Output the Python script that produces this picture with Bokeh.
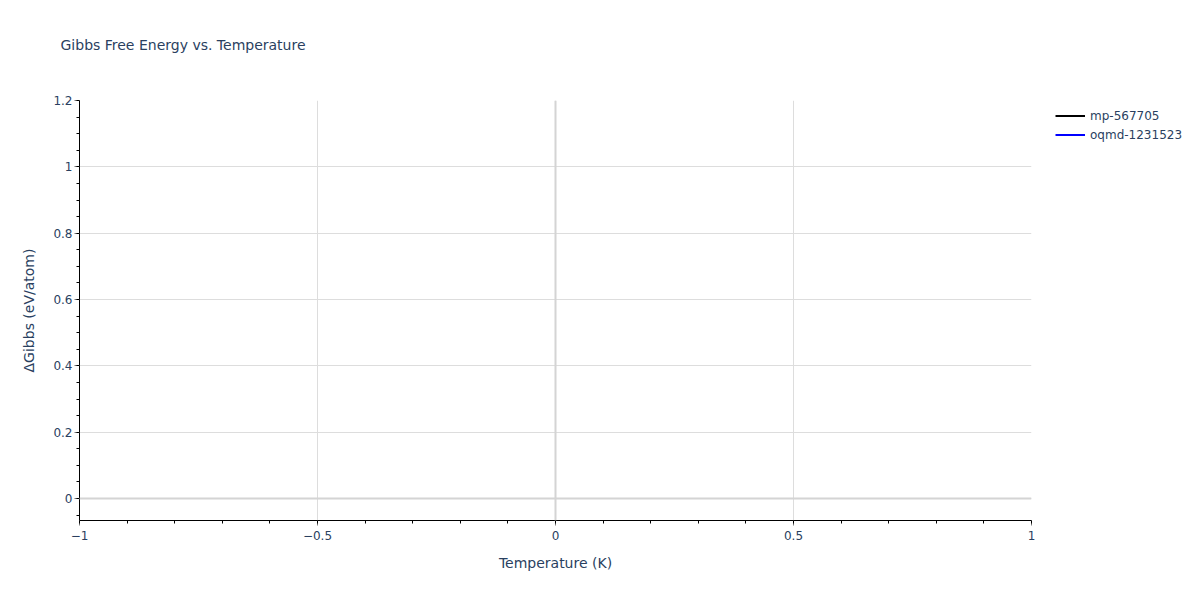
from bokeh.plotting import figure
from bokeh.models import Range1d, Span, Legend, LegendItem, Title, FixedTicker
from bokeh.embed import file_html
from bokeh.resources import INLINE

# Data
series_names = ["mp-567705", "oqmd-1231523"]
series_colors = ["black", "blue"]
temperatures = [[0.0], [0.0]]
gibbs = [[0.0], [0.0]]
x_ticks = [-1, -0.5, 0, 0.5, 1]
y_ticks = [0, 0.2, 0.4, 0.6, 0.8, 1.0, 1.2]

FONT = "DejaVu Sans"
TXT = "#2a3f5f"

p = figure(frame_width=952, frame_height=420, output_backend="svg", toolbar_location=None,
           x_range=Range1d(-1, 1), y_range=Range1d(-0.0663, 1.2),
           min_border_left=79, min_border_right=169, min_border_top=100, min_border_bottom=80)
p.title = None
p.outline_line_color = None

# spacer between frame and title (nearest to the frame)
spacer = Title(text=" ", text_font=FONT, text_font_size="10px", standoff=10)
p.add_layout(spacer, "above")
t = Title(text="Gibbs Free Energy vs. Temperature", text_font=FONT, text_font_size="14px",
          text_font_style="normal", text_color=TXT, offset=-19, standoff=50)
p.add_layout(t, "above")

renderers = []
for name, col, xs, ys in zip(series_names, series_colors, temperatures, gibbs):
    r = p.line(xs, ys, line_color=col, line_width=2)
    renderers.append((name, r))

# grid
p.xgrid.ticker = FixedTicker(ticks=x_ticks)
p.ygrid.ticker = FixedTicker(ticks=y_ticks)
p.xgrid.grid_line_color = "#dddddd"
p.ygrid.grid_line_color = "#dddddd"
p.add_layout(Span(location=0, dimension="height", line_color="#d4d4d4", line_width=2))
p.add_layout(Span(location=0, dimension="width", line_color="#d4d4d4", line_width=2))

xminor = [round(-1 + 0.1 * i, 2) for i in range(21)]
yminor = [round(-0.05 + 0.05 * i, 2) for i in range(26)]
p.xaxis.ticker = FixedTicker(ticks=x_ticks, minor_ticks=xminor)
p.yaxis.ticker = FixedTicker(ticks=y_ticks, minor_ticks=yminor)

for ax in (p.xaxis[0], p.yaxis[0]):
    ax.axis_line_color = "black"
    ax.axis_line_width = 1
    ax.major_tick_line_color = "#777777"
    ax.major_tick_out = 5
    ax.major_tick_in = 0
    ax.minor_tick_line_color = "black"
    ax.minor_tick_out = 3
    ax.minor_tick_in = 0
    ax.major_label_text_font = FONT
    ax.major_label_text_font_size = "12px"
    ax.major_label_text_color = TXT
    ax.axis_label_text_font = FONT
    ax.axis_label_text_font_size = "14px"
    ax.axis_label_text_font_style = "normal"
    ax.axis_label_text_color = TXT

p.xaxis.axis_label = "Temperature (K)"
p.yaxis.axis_label = "ΔGibbs (eV/atom)"
p.xaxis.major_label_overrides = {-1: "−1", -0.5: "−0.5", 0: "0", 0.5: "0.5", 1: "1"}
p.yaxis.major_label_overrides = {0: "0", 0.2: "0.2", 0.4: "0.4", 0.6: "0.6", 0.8: "0.8", 1.0: "1", 1.2: "1.2"}
p.xaxis.major_label_standoff = 5
p.yaxis.major_label_standoff = 2
p.xaxis.axis_label_standoff = 12
p.yaxis.axis_label_standoff = 13

legend = Legend(items=[LegendItem(label=n, renderers=[r]) for n, r in renderers],
                location=(24, 376), padding=0, margin=0, spacing=0,
                glyph_width=30, glyph_height=19, label_standoff=5,
                label_text_font=FONT, label_text_font_size="12px", label_text_color=TXT,
                border_line_color=None, background_fill_alpha=0)
p.add_layout(legend, "right")

open("out.html", "w").write(file_html(p, INLINE))
